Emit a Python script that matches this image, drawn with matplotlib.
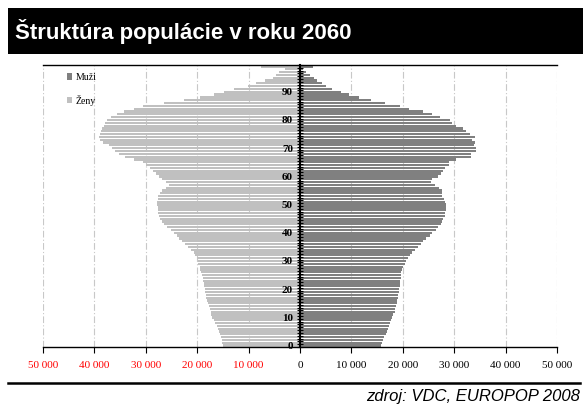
import matplotlib.pyplot as plt
from matplotlib.patches import Rectangle
from matplotlib.lines import Line2D
from matplotlib.ticker import MultipleLocator, FixedLocator

# population by age 0..99 (thousands)
vek = list(range(100))
muzi = [15.7, 15.9, 16.2, 16.4, 16.8, 16.9, 17.1, 17.4, 17.5, 17.7,
        17.9, 18.1, 18.4, 18.5, 18.6, 18.8, 18.9, 19.0, 19.1, 19.2,
        19.3, 19.4, 19.4, 19.5, 19.6, 19.7, 19.7, 19.9, 20.1, 20.4,
        20.6, 21.0, 21.4, 21.8, 22.3, 22.9, 23.5, 24.0, 24.5, 25.2,
        25.7, 26.4, 26.8, 27.4, 27.7, 27.9, 28.2, 28.3, 28.4, 28.4,
        28.4, 28.2, 28.0, 27.7, 27.6, 27.7, 27.1, 26.2, 25.5, 25.7,
        26.8, 27.5, 27.8, 28.2, 28.9, 29.0, 30.4, 33.2, 33.3, 34.2,
        34.3, 33.8, 34.0, 33.4, 34.1, 33.1, 32.3, 31.7, 30.4, 29.6,
        29.1, 27.3, 25.7, 23.9, 21.3, 19.5, 16.5, 13.8, 11.4, 9.6,
        8.0, 6.2, 5.1, 4.3, 3.4, 2.7, 1.9, 1.2, 0.5, 2.5]
zeny = [14.9, 15.1, 15.2, 15.4, 15.6, 15.8, 16.0, 16.2, 16.5, 16.8,
        17.1, 17.3, 17.4, 17.5, 17.8, 17.9, 18.1, 18.2, 18.3, 18.4,
        18.5, 18.6, 18.7, 18.8, 18.9, 19.0, 19.2, 19.4, 19.5, 19.8,
        19.9, 20.1, 20.4, 20.7, 21.3, 21.8, 22.4, 22.9, 23.5, 24.0,
        24.6, 25.1, 25.9, 26.4, 26.9, 27.2, 27.4, 27.6, 27.7, 27.7,
        27.8, 27.8, 27.7, 27.6, 27.3, 26.8, 26.0, 25.5, 26.0, 26.9,
        27.5, 28.0, 28.6, 29.2, 30.0, 30.5, 32.2, 34.0, 35.3, 36.0,
        36.6, 37.2, 38.3, 38.9, 39.1, 39.0, 38.8, 38.6, 38.2, 37.9,
        37.5, 36.8, 35.6, 34.3, 32.3, 30.5, 26.5, 22.5, 19.5, 16.8,
        14.8, 12.8, 10.2, 8.5, 6.8, 5.3, 4.7, 4.0, 2.9, 7.6]
x_ticks = [-50000, -40000, -30000, -20000, -10000, 0, 10000, 20000, 30000, 40000, 50000]

serif = ['Liberation Serif', 'DejaVu Serif']
narrow = ['Liberation Sans Narrow', 'Liberation Sans', 'DejaVu Sans']

fig = plt.figure(figsize=(5.83, 4.05), dpi=100)
fig.patch.set_facecolor('white')

# header band
fig.patches.append(Rectangle((8 / 583, 1 - 54 / 405), 575 / 583, 46 / 405,
                             transform=fig.transFigure, facecolor='black',
                             edgecolor='none'))
fig.text(15 / 583, 1 - 31 / 405, 'Štruktúra populácie v roku 2060', color='white',
         fontsize=16, fontweight='bold', family=narrow, va='center', ha='left')

ax = fig.add_axes([43 / 583, 1 - 347 / 405, 514 / 583, 282 / 405])

# dashed gridlines behind the bars
for v in x_ticks:
    ax.axvline(v, color='#c8c8c8', linestyle=(0, (6, 2, 1, 2)), linewidth=0.8, zorder=1)

ax.barh(vek, [-v * 1000 for v in zeny], height=0.8, color='#c0c0c0', label='Ženy', zorder=2)
ax.barh(vek, [v * 1000 for v in muzi], height=0.8, color='#808080', label='Muži', zorder=2)

ax.set_xlim(-50000, 50000)
ax.set_ylim(-0.5, 99.5)
ax.set_axisbelow(False)

# x axis
ax.set_xticks(x_ticks)
ax.set_xticklabels(['{:,}'.format(abs(v)).replace(',', ' ') for v in x_ticks],
                   family=serif, fontsize=8)
for lab, v in zip(ax.get_xticklabels(), x_ticks):
    lab.set_color('red' if v < 0 else 'black')
ax.tick_params(axis='x', direction='out', length=4, width=0.8, pad=6)

# age axis in the middle
ax.spines['left'].set_position(('data', 0))
ax.spines['left'].set_linewidth(1.5)
ax.spines['right'].set_visible(False)
ax.spines['top'].set_linewidth(1.0)
ax.spines['bottom'].set_linewidth(1.0)
ax.yaxis.set_major_locator(MultipleLocator(10))
ax.yaxis.set_minor_locator(FixedLocator([a - 0.5 for a in vek] + [99.5]))
ax.tick_params(axis='y', which='major', length=0, pad=5)
ax.tick_params(axis='y', which='minor', direction='inout', length=5, width=0.8)
for lab in ax.get_yticklabels():
    lab.set_family(serif)
    lab.set_fontweight('bold')
    lab.set_fontsize(8)

h, l = ax.get_legend_handles_labels()
ax.legend(h[::-1], l[::-1], loc='upper left', bbox_to_anchor=(0.029, 1.003),
          frameon=False, handlelength=0.6, handleheight=0.6, handletextpad=0.3,
          labelspacing=1.3, prop={'family': serif, 'size': 7})

# footer
fig.add_artist(Line2D([8 / 583, 580 / 583], [1 - 383 / 405, 1 - 383 / 405],
                      transform=fig.transFigure, color='black', linewidth=1.8))
fig.text(580 / 583, 1 - 397 / 405, 'zdroj: VDC, EUROPOP 2008', fontsize=12,
         style='italic', family=narrow, ha='right', va='center')

fig.savefig('out.png', dpi=100)
